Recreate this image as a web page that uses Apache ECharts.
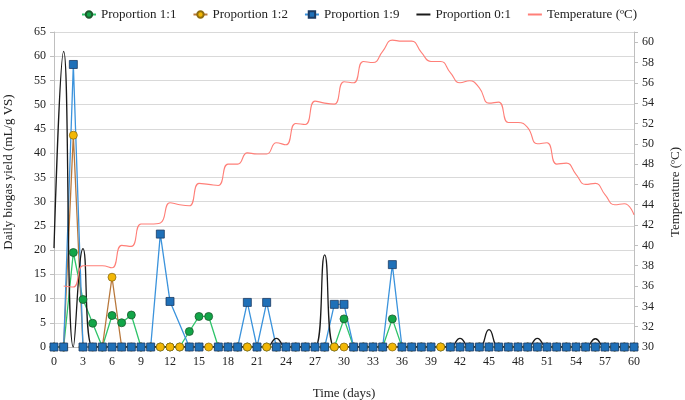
<!DOCTYPE html>
<html>
<head>
<meta charset="utf-8">
<script src="https://cdn.jsdelivr.net/npm/echarts@6/dist/echarts.min.js"></script>
<style>
  html, body { margin: 0; padding: 0; background: #fff; }
  #main { width: 685px; height: 400px; }
</style>
</head>
<body>
<div id="main"></div>
<script>
// days of digestion
const days = [0,1,2,3,4,5,6,7,8,9,10,11,12,13,14,15,16,17,18,19,20,21,22,23,24,25,26,27,28,29,30,
  31,32,33,34,35,36,37,38,39,40,41,42,43,44,45,46,47,48,49,50,51,52,53,54,55,56,57,58,59,60];

// daily biogas yield (mL/g VS)
const prop11 = [0,0,19.5,9.8,4.9,0,6.5,5.0,6.6,0,0,0,0,0,3.2,6.3,6.3,0,0,0,0,0,0,0,0,0,0,0,0,0,5.8,
  0,0,0,0,5.8,0,0,0,0,0,0,0,0,0,0,0,0,0,0,0,0,0,0,0,0,0,0,0,0,0];
const prop12 = [0,0,43.7,0,0,0,14.4,0,0,0,0,0,0,0,0,0,0,0,0,0,0,0,0,0,0,0,0,0,0,0,0,
  0,0,0,0,0,0,0,0,0,0,0,0,0,0,0,0,0,0,0,0,0,0,0,0,0,0,0,0,0,0];
const prop19 = [0,0,58.3,0,0,0,0,0,0,0,0,23.3,9.4,null,0,0,null,0,0,0,9.2,0,9.2,0,0,0,0,0,0,8.8,8.8,
  0,0,0,0,17.0,0,0,0,0,null,0,0,0,0,0,0,0,0,0,0,0,0,0,0,0,0,0,0,0,0];
const prop01 = [20.4,61,0,20.3,0,0,0,0,0,0,0,0,0,0,0,0,0,0,0,0,0,0,0,1.8,0,0,0,0,19.0,0,0,
  0,0,0,0,0,0,0,0,0,0,0,1.8,0,0,3.6,0,0,0,0,1.8,0,0,0,0,0,1.7,0,0,0,0];

// temperature (ºC)
const temperature = [null,36.0,35.9,38.0,38.0,38.0,37.8,40.0,39.9,42.1,42.1,42.2,44.2,44.0,43.9,46.1,46.0,45.9,48.0,48.0,49.1,
  49.0,49.0,50.1,49.9,52.0,51.9,54.2,54.0,53.9,56.1,56.0,58.1,58.0,59.1,60.2,60.1,60.1,59.0,58.1,58.1,
  57.0,56.0,56.2,55.5,54.0,54.1,52.1,52.1,51.6,50.0,50.1,48.0,48.1,47.0,46.0,46.1,45.0,44.0,44.1,43.0];

const pairs = arr => days.map((d, i) => [d, arr[i]]);

const serif = 'Liberation Serif';
const chart = echarts.init(document.getElementById('main'));

// rotated axis titles, placed by hand
function axisTitle(text, x, y) {
  return {
    type: 'text',
    x: x, y: y,
    rotation: Math.PI / 2,
    style: {
      text: text,
      font: '13px "Liberation Serif"',
      fill: '#222',
      align: 'center',
      verticalAlign: 'middle'
    }
  };
}

chart.setOption({
  animation: false,
  textStyle: { fontFamily: serif, color: '#222' },
  legend: {
    top: 3,
    left: 76,
    itemWidth: 14,
    itemHeight: 8,
    itemGap: 16,
    textStyle: { fontFamily: serif, fontSize: 13, color: '#222' },
    data: [
      'Proportion 1:1',
      'Proportion 1:2',
      'Proportion 1:9',
      { name: 'Proportion 0:1', itemStyle: { opacity: 0 } },
      { name: 'Temperature (ºC)', itemStyle: { opacity: 0 } }
    ]
  },
  graphic: [
    axisTitle('Daily biogas yield (mL/g VS)', 9, 172),
    axisTitle('Temperature (ºC)', 676, 192)
  ],
  grid: { left: 54, right: 51, top: 32, bottom: 53, outerBoundsMode: 'none' },
  xAxis: {
    type: 'value',
    min: 0,
    max: 60,
    interval: 3,
    name: 'Time (days)',
    nameLocation: 'middle',
    nameGap: 40,
    nameTextStyle: { fontFamily: serif, fontSize: 13, color: '#222' },
    axisLine: { lineStyle: { color: '#bfbfbf' } },
    axisTick: { show: false },
    splitLine: { show: false },
    axisLabel: { fontFamily: serif, fontSize: 12, color: '#222', margin: 9 }
  },
  yAxis: [
    {
      type: 'value',
      min: 0,
      max: 65,
      interval: 5,
      axisLine: { show: true, lineStyle: { color: '#bfbfbf' } },
      axisTick: { show: true, length: 4, lineStyle: { color: '#bfbfbf' } },
      splitLine: { lineStyle: { color: '#d9d9d9' } },
      axisLabel: { fontFamily: serif, fontSize: 12, color: '#222', margin: 8 }
    },
    {
      type: 'value',
      position: 'right',
      min: 30,
      max: 61,
      interval: 2,
      axisLine: { show: true, lineStyle: { color: '#bfbfbf' } },
      axisTick: { show: true, length: 4, lineStyle: { color: '#bfbfbf' } },
      splitLine: { show: false },
      axisLabel: {
        fontFamily: serif, fontSize: 12, color: '#222', margin: 8,
        formatter: v => (v > 60 ? '' : v)
      }
    }
  ],
  series: [
    {
      name: 'Proportion 1:1',
      type: 'line',
      data: pairs(prop11),
      symbol: 'circle',
      symbolSize: 8,
      lineStyle: { color: '#2fc46a', width: 1.3 },
      itemStyle: { color: '#12a548', borderColor: '#1d5a2e', borderWidth: 0.8 }
    },
    {
      name: 'Proportion 1:2',
      type: 'line',
      data: pairs(prop12),
      symbol: 'circle',
      symbolSize: 8,
      lineStyle: { color: '#b8783c', width: 1.3 },
      itemStyle: { color: '#f2b705', borderColor: '#8f6d10', borderWidth: 0.8 }
    },
    {
      name: 'Proportion 1:9',
      type: 'line',
      data: pairs(prop19),
      connectNulls: true,
      symbol: 'rect',
      symbolSize: 8,
      lineStyle: { color: '#3b93dc', width: 1.3 },
      itemStyle: { color: '#1f70b8', borderColor: '#1c3b63', borderWidth: 0.8 }
    },
    {
      name: 'Proportion 0:1',
      type: 'line',
      data: pairs(prop01),
      smooth: 0.5,
      showSymbol: false,
      lineStyle: { color: '#1a1a1a', width: 1.3 },
      itemStyle: { color: '#1a1a1a' }
    },
    {
      name: 'Temperature (ºC)',
      type: 'line',
      yAxisIndex: 1,
      data: pairs(temperature),
      smooth: 0.5,
      showSymbol: false,
      lineStyle: { color: '#ff7f78', width: 1.1 },
      itemStyle: { color: '#ff7f78' }
    }
  ]
});
</script>
</body>
</html>
